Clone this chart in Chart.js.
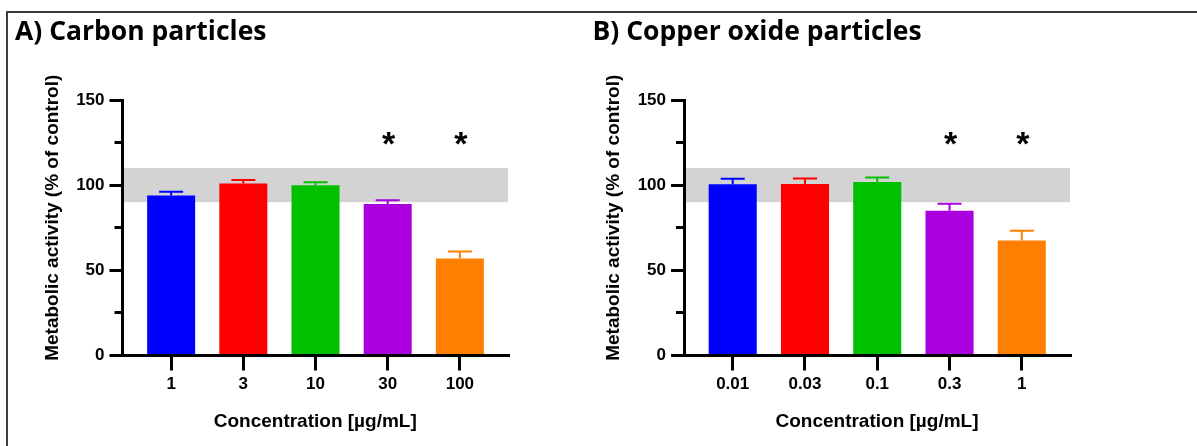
<!DOCTYPE html>
<html>
<head>
<meta charset="utf-8">
<script src="https://cdn.jsdelivr.net/npm/chart.js@4.4.1/dist/chart.umd.min.js"></script>
<style>
  html, body { margin: 0; padding: 0; background: #fff; }
  #wrap { position: relative; width: 1197px; height: 446px; overflow: hidden; }
  #frame { position: absolute; left: 6px; top: 11px; width: 1300px; height: 500px;
           border-top: 2px solid #3c3c3c; border-left: 2px solid #3c3c3c; }
  canvas { position: absolute; top: 0; }
  #chartA { left: 0; }
  #chartB { left: 561px; }
</style>
</head>
<body>
<div id="wrap">
  <div id="frame"></div>
  <canvas id="chartA" width="560" height="446"></canvas>
  <canvas id="chartB" width="560" height="446"></canvas>
</div>
<script>
// A) carbon particles
const carbonDoses = ["1", "3", "10", "30", "100"];
const carbonMeans = [94, 101, 100, 89, 57];
const carbonSD    = [2.1, 2.1, 1.7, 2.1, 4];
const carbonSig   = ["", "", "", "*", "*"];

// B) copper oxide particles
const cuoDoses = ["0.01", "0.03", "0.1", "0.3", "1"];
const cuoMeans = [100.5, 100.7, 101.8, 85, 67.5];
const cuoSD    = [3.3, 3.2, 2.7, 4.1, 5.8];
const cuoSig   = ["", "", "", "*", "*"];

const barColors   = ["#0000ff", "#ff0000", "#00c000", "#aa00e0", "#ff8000"];
const controlBand = [90, 110];   // grey band = control range
const starLevel   = 123;         // height where the * marks sit
const yMajor      = 50;          // labelled ticks every 50, minor ticks every 25

const yTitle = "Metabolic activity (% of control)";
const xTitle = "Concentration [µg/mL]";

const tickFont  = { family: "'Liberation Sans', Arial, sans-serif", weight: "bold", size: 17 };
const titleFont = { family: "'Liberation Sans', Arial, sans-serif", weight: "bold", size: 19 };

// grey band, error bars, stars, minor ticks, y title
const decor = {
  id: "decor",
  beforeDraw(chart) {
    const { ctx, chartArea: a, scales: { y } } = chart;
    const top = y.getPixelForValue(controlBand[1]);
    const bot = y.getPixelForValue(controlBand[0]);
    ctx.save();
    ctx.fillStyle = "#d3d3d3";
    ctx.fillRect(a.left + 1.5, top, a.right - a.left - 1.5, bot - top);
    ctx.restore();
  },
  afterDatasetsDraw(chart, args, opts) {
    const { ctx, scales: { y } } = chart;
    const bars = chart.getDatasetMeta(0).data;
    ctx.save();
    bars.forEach((bar, i) => {
      const val = chart.data.datasets[0].data[i].y;
      const yTop = y.getPixelForValue(val + opts.errors[i]);
      const half = bar.width / 4;
      ctx.strokeStyle = barColors[i];
      ctx.lineWidth = 2;
      ctx.beginPath();
      ctx.moveTo(bar.x, bar.y);
      ctx.lineTo(bar.x, yTop);
      ctx.moveTo(bar.x - half, yTop);
      ctx.lineTo(bar.x + half, yTop);
      ctx.stroke();
      if (opts.sig[i]) {
        ctx.fillStyle = "#000";
        ctx.font = "bold 34px 'Liberation Sans', Arial, sans-serif";
        ctx.textAlign = "center";
        ctx.textBaseline = "middle";
        ctx.fillText(opts.sig[i], bar.x + 1, y.getPixelForValue(starLevel));
      }
    });
    ctx.restore();
  },
  afterDraw(chart) {
    const { ctx, chartArea: a, scales: { y } } = chart;
    ctx.save();
    ctx.strokeStyle = "#000";
    ctx.lineWidth = 3;
    y.ticks.forEach(t => {
      if (t.value % yMajor === 0) return;
      const py = Math.round(y.getPixelForValue(t.value) - 1.5) + 1.5;
      ctx.beginPath();
      ctx.moveTo(a.left - 8, py);
      ctx.lineTo(a.left, py);
      ctx.stroke();
    });
    ctx.translate(a.left - 70, (a.top + a.bottom) / 2 - 10);
    ctx.rotate(-Math.PI / 2);
    ctx.fillStyle = "#000";
    ctx.font = "bold 19px 'Liberation Sans', Arial, sans-serif";
    ctx.textAlign = "center";
    ctx.textBaseline = "middle";
    ctx.fillText(yTitle, 0, 0);
    ctx.restore();
  }
};

function buildPanel(id, title, titleX, axisX, axisRight, doses, means, sd, sig) {
  const W = 560, H = 446;
  return new Chart(document.getElementById(id), {
    type: "bar",
    data: {
      datasets: [{
        data: doses.map((d, i) => ({ x: i, y: means[i] })),
        backgroundColor: barColors,
        borderWidth: 0,
        categoryPercentage: 1,
        barPercentage: 0.665
      }]
    },
    plugins: [decor],
    options: {
      responsive: false,
      animation: false,
      layout: { padding: { left: titleX, right: W - axisRight, top: 0, bottom: 0 } },
      plugins: {
        legend: { display: false },
        tooltip: { enabled: false },
        title: {
          display: true,
          text: title,
          align: "start",
          color: "#000",
          font: { family: "'Open Sans', Lato, sans-serif", weight: "bold", size: 26.5 },
          padding: { top: 17, bottom: 100 - 17 - 31.8 }
        },
        decor: { errors: sd, sig: sig }
      },
      scales: {
        x: {
          type: "linear",
          offset: false,
          min: -0.674,
          max: 4.667,
          afterBuildTicks: s => { s.ticks = doses.map((d, i) => ({ value: i })); },
          afterFit: s => { s.height = H - 355.5; },
          ticks: {
            autoSkip: false,
            color: "#000",
            font: tickFont,
            padding: 4,
            callback: v => doses[v]
          },
          grid: { offset: false, drawOnChartArea: false, color: "#000", lineWidth: 3, tickLength: 15 },
          border: { color: "#000", width: 3 },
          title: {
            display: true,
            text: xTitle,
            color: "#000",
            font: titleFont,
            padding: { top: 0, bottom: 13 }
          }
        },
        y: {
          min: 0,
          max: 150,
          afterFit: s => { s.width = axisX - titleX; },
          ticks: {
            stepSize: 25,
            color: "#000",
            font: tickFont,
            padding: 5,
            callback: v => (v % yMajor === 0 ? v : "")
          },
          grid: {
            drawOnChartArea: false,
            lineWidth: 3,
            tickLength: 13,
            tickColor: c => (c.tick && c.tick.value % yMajor === 0 ? "#000" : "rgba(0,0,0,0)")
          },
          border: { color: "#000", width: 3 }
        }
      }
    }
  });
}

buildPanel("chartA", "A) Carbon particles", 15, 122.5, 508, carbonDoses, carbonMeans, carbonSD, carbonSig);
buildPanel("chartB", "B) Copper oxide particles", 31.5, 123, 509, cuoDoses, cuoMeans, cuoSD, cuoSig);
</script>
</body>
</html>
